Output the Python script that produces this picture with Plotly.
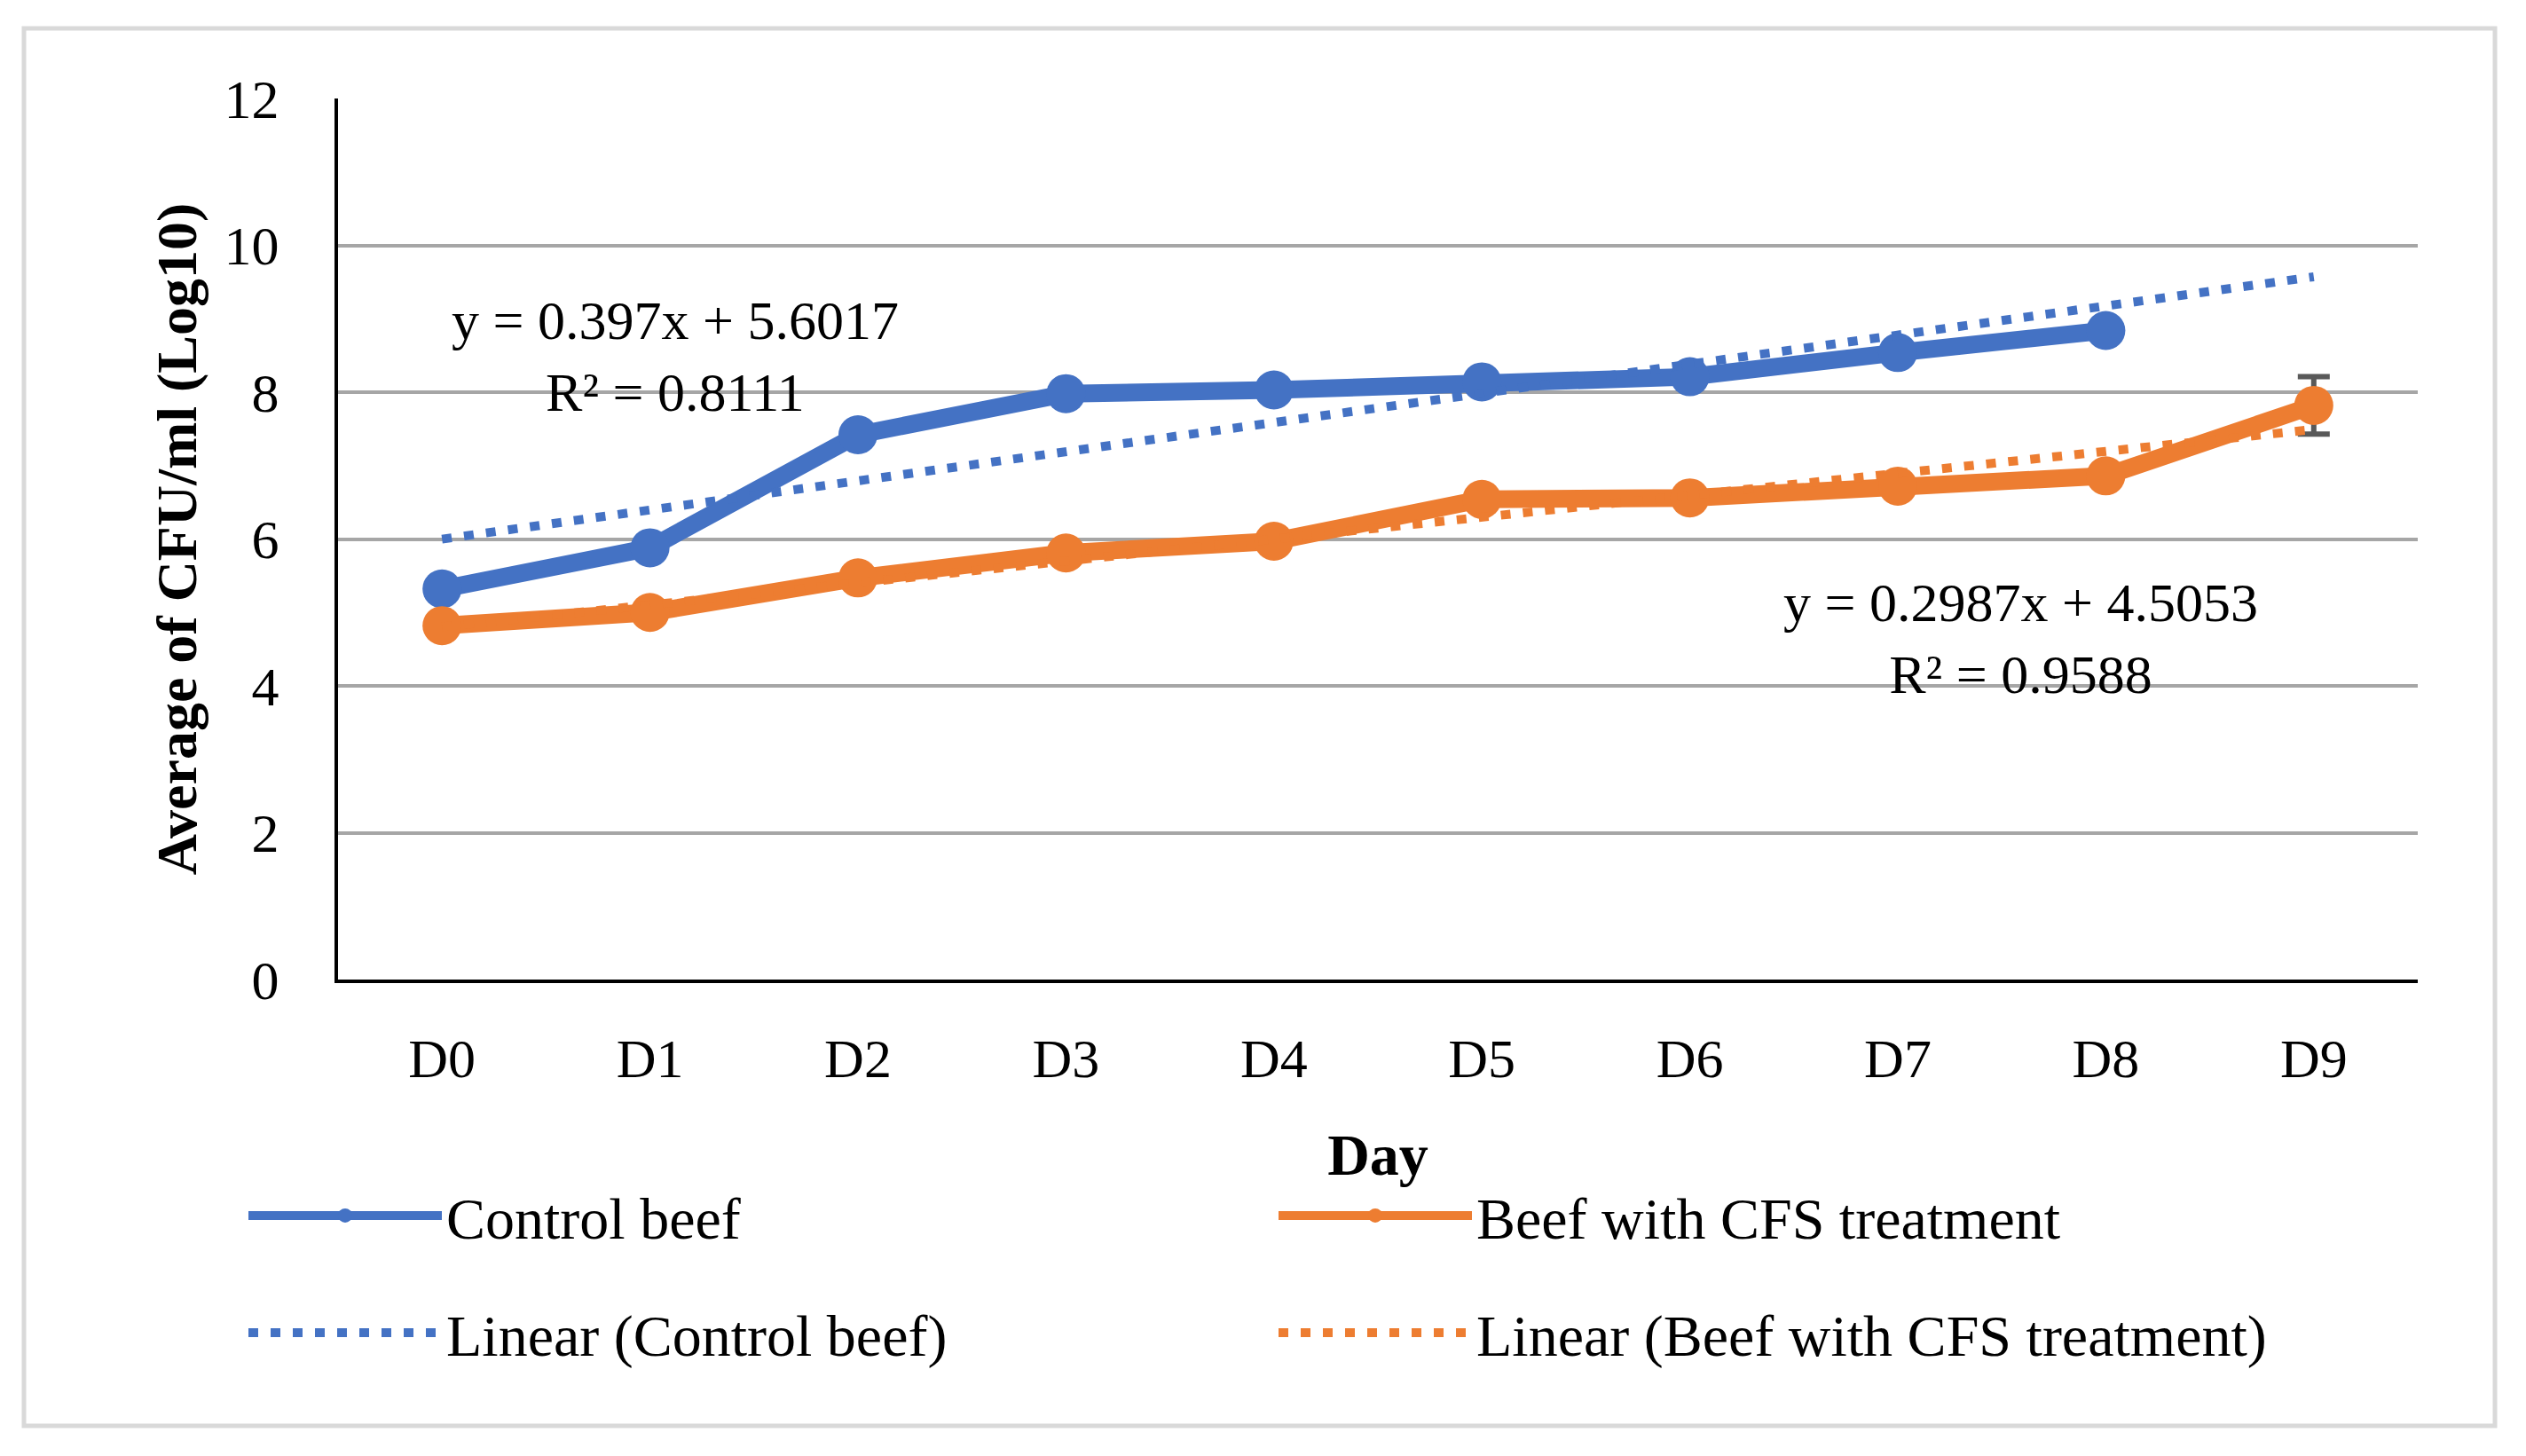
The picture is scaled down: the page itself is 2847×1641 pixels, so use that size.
import plotly.graph_objects as go

# ---- data ----
days = ["D0", "D1", "D2", "D3", "D4", "D5", "D6", "D7", "D8", "D9"]
control_days = ["D0", "D1", "D2", "D3", "D4", "D5", "D6", "D7", "D8"]
control_beef = [5.32, 5.88, 7.42, 7.98, 8.03, 8.14, 8.21, 8.54, 8.84]
cfs_beef = [4.82, 5.00, 5.47, 5.81, 5.97, 6.54, 6.56, 6.72, 6.86, 7.82]
cfs_error = [None, None, None, None, None, None, None, None, None, 0.39]
trend_days = ["D0", "D9"]
control_trend = [5.9987, 9.5717]   # y = 0.397x + 5.6017, x = 1..10
cfs_trend = [4.8040, 7.4923]       # y = 0.2987x + 4.5053, x = 1..10
control_eq = "y = 0.397x + 5.6017<br>R² = 0.8111"
cfs_eq = "y = 0.2987x + 4.5053<br>R² = 0.9588"

BLUE = "#4472C4"
ORANGE = "#ED7D31"
FONT = "Palatino Linotype, Book Antiqua, Palatino, Liberation Serif, serif"

fig = go.Figure()
fig.add_trace(go.Scatter(
    x=control_days, y=control_beef, name="Control beef", mode="lines+markers",
    line=dict(color=BLUE, width=20), marker=dict(color=BLUE, size=44),
    legend="legend"))
fig.add_trace(go.Scatter(
    x=days, y=cfs_beef, name="Beef with CFS treatment", mode="lines+markers",
    line=dict(color=ORANGE, width=20), marker=dict(color=ORANGE, size=44),
    error_y=dict(type="data", array=cfs_error, visible=True, color="#595959",
                 thickness=6, width=18),
    legend="legend"))
fig.add_trace(go.Scatter(
    x=trend_days, y=control_trend, name="Linear (Control beef)", mode="lines",
    line=dict(color=BLUE, width=10, dash="11px,14px"), legend="legend2"))
fig.add_trace(go.Scatter(
    x=trend_days, y=cfs_trend, name="Linear (Beef with CFS treatment)", mode="lines",
    line=dict(color=ORANGE, width=10, dash="11px,14px"), legend="legend2"))

W, H = 2831, 1625
L, T, R, B = 373, 103, 114, 529
PW, PH = W - L - R, H - T - B


def px_x(X):
    return (X - 8 - L) / PW


def px_y(Y):
    return (H - B - (Y - 8)) / PH


legend_common = dict(
    orientation="h", xanchor="left", yanchor="middle",
    font=dict(family=FONT, size=66, color="black"),
    itemwidth=218, entrywidth=928, bgcolor="rgba(0,0,0,0)",
    traceorder="normal")

fig.update_layout(
    width=W, height=H, autosize=False,
    margin=dict(l=L, r=R, t=T, b=B, pad=0),
    paper_bgcolor="white", plot_bgcolor="white",
    font=dict(family=FONT, size=62, color="black"),
    showlegend=True,
    legend=dict(x=px_x(275), y=px_y(1370), **legend_common),
    legend2=dict(x=px_x(275), y=px_y(1502), **legend_common),
    xaxis=dict(
        type="category", categoryorder="array", categoryarray=days,
        range=[-0.5, 9.5], showgrid=False, zeroline=False,
        showline=True, linecolor="black", linewidth=4, ticks="",
        tickfont=dict(family=FONT, size=62), ticklabelstandoff=32,
        title=dict(text="<b>Day</b>", font=dict(family=FONT, size=66),
                   standoff=52)),
    yaxis=dict(
        range=[0, 12], dtick=2, tick0=0, showgrid=True, gridcolor="#A6A6A6",
        gridwidth=4, zeroline=False, showline=True, linecolor="black",
        linewidth=4, ticks="", tickfont=dict(family=FONT, size=62),
        ticklabelstandoff=50,
        title=dict(text="<b>Average of CFU/ml (Log10)</b>",
                   font=dict(family=FONT, size=64), standoff=11)),
    annotations=[
        dict(text=control_eq, xref="paper", yref="paper",
             x=px_x(761), y=px_y(401), xanchor="center", yanchor="middle",
             showarrow=False, align="center",
             font=dict(family=FONT, size=62, color="black")),
        dict(text=cfs_eq, xref="paper", yref="paper",
             x=px_x(2277), y=px_y(719), xanchor="center", yanchor="middle",
             showarrow=False, align="center",
             font=dict(family=FONT, size=62, color="black")),
    ],
    shapes=[
        dict(type="rect", xref="paper", yref="paper", layer="below",
             x0=px_x(27), x1=px_x(2812), y0=px_y(1607), y1=px_y(32),
             line=dict(color="#D9D9D9", width=5), fillcolor="rgba(0,0,0,0)"),
    ],
)

fig.write_html("out.html")
